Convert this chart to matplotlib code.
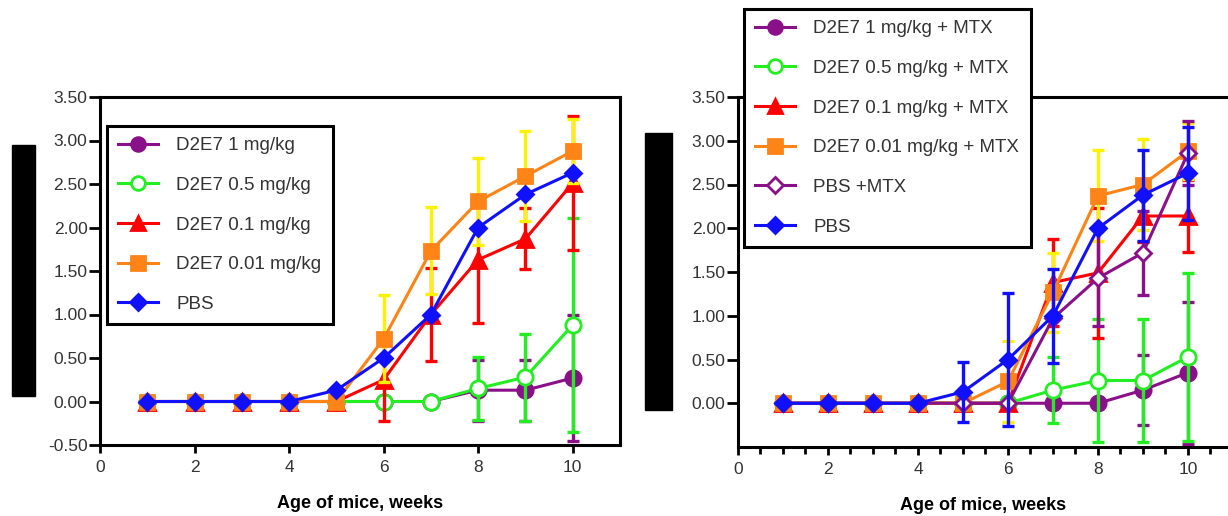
import matplotlib
matplotlib.use("Agg")
import matplotlib.pyplot as plt
from matplotlib.patches import Rectangle
import numpy as np

plt.rcParams['font.family'] = ['Liberation Sans', 'DejaVu Sans']

weeks = [1, 2, 3, 4, 5, 6, 7, 8, 9, 10]

# left panel (no MTX)
left_labels = ["D2E7 1 mg/kg", "D2E7 0.5 mg/kg", "D2E7 0.1 mg/kg", "D2E7 0.01 mg/kg", "PBS"]
left_1mg = [0, 0, 0, 0, 0, 0, 0, 0.13, 0.13, 0.27]
left_1mg_err = [0, 0, 0, 0, 0, 0, 0, 0.35, 0.35, 0.72]
left_05 = [0, 0, 0, 0, 0, 0, 0, 0.15, 0.28, 0.88]
left_05_err = [0, 0, 0, 0, 0, 0, 0, 0.36, 0.50, 1.23]
left_01 = [0, 0, 0, 0, 0, 0.25, 1.00, 1.63, 1.87, 2.51]
left_01_err = [0, 0, 0, 0, 0, 0.47, 0.53, 0.73, 0.35, 0.77]
left_001 = [0, 0, 0, 0, 0, 0.72, 1.73, 2.30, 2.59, 2.88]
left_001_err = [0, 0, 0, 0, 0, 0.50, 0.50, 0.50, 0.52, 0.37]
left_pbs = [0, 0, 0, 0, 0.13, 0.50, 1.00, 2.00, 2.38, 2.63]
left_pbs_err = [0, 0, 0, 0, 0, 0, 0, 0, 0, 0]

# right panel (+ MTX)
right_labels = ["D2E7 1 mg/kg + MTX", "D2E7 0.5 mg/kg + MTX", "D2E7 0.1 mg/kg + MTX",
                "D2E7 0.01 mg/kg + MTX", "PBS +MTX", "PBS"]
right_1mg = [0, 0, 0, 0, 0, 0, 0, 0, 0.15, 0.35]
right_1mg_err = [0, 0, 0, 0, 0, 0, 0, 0, 0.40, 0.81]
right_05 = [0, 0, 0, 0, 0, 0, 0.15, 0.26, 0.26, 0.53]
right_05_err = [0, 0, 0, 0, 0, 0, 0.38, 0.70, 0.70, 0.96]
right_01 = [0, 0, 0, 0, 0, 0, 1.38, 1.49, 2.14, 2.14]
right_01_err = [0, 0, 0, 0, 0, 0, 0.50, 0.74, 0.30, 0.41]
right_001 = [0, 0, 0, 0, 0, 0.25, 1.27, 2.37, 2.50, 2.88]
right_001_err = [0, 0, 0, 0, 0, 0.46, 0.45, 0.52, 0.52, 0.32]
right_pbsmtx = [0, 0, 0, 0, 0, 0, 0.97, 1.43, 1.72, 2.86]
right_pbsmtx_err = [0, 0, 0, 0, 0, 0, 0, 0.55, 0.48, 0.37]
right_pbs = [0, 0, 0, 0, 0.13, 0.50, 1.00, 2.00, 2.38, 2.63]
right_pbs_err = [0, 0, 0, 0, 0.34, 0.76, 0.54, 0, 0.52, 0.53]

purple = '#8a108a'
green = '#22ee22'
red = '#ff0000'
orange = '#ff8418'
yellow = '#fff200'
blue = '#1010ff'
textgrey = '#333333'

# (line colour, errorbar colour, marker, face)
left_styles = [(purple, purple, 'o', purple), (green, green, 'o', 'white'),
               (red, red, '^', red), (orange, yellow, 's', orange), (blue, blue, 'D', blue)]
right_styles = [(purple, purple, 'o', purple), (green, green, 'o', 'white'),
                (red, red, '^', red), (orange, yellow, 's', orange),
                (purple, purple, 'D', 'white'), (blue, blue, 'D', blue)]
msizes = {'o': 11, '^': 11, 's': 10.5, 'D': 8.5}


def draw_series(ax, ys, errs, labels, styles):
    x = np.array(weeks)
    for i, (y, e, lab, st) in enumerate(zip(ys, errs, labels, styles)):
        col, ecol, mk, face = st
        y = np.array(y)
        e = np.array(e)
        m = e > 0
        z = 2 + i * 0.1
        if m.any():
            ax.errorbar(x[m], y[m], yerr=e[m], fmt='none', ecolor=ecol,
                        elinewidth=2.4, capsize=4.5, capthick=2.4, zorder=z)
        ax.plot(x, y, color=col, lw=2.2, marker=mk, ms=msizes[mk],
                mfc=face, mec=col, mew=2, label=lab, zorder=z + 0.05)


def style_axes(ax, xmax, ylabels_from):
    ax.set_xlim(0, xmax)
    ax.set_ylim(-0.5, 3.5)
    ax.set_xticks([0, 2, 4, 6, 8, 10])
    ticks = np.arange(ylabels_from, 3.51, 0.5)
    ax.set_yticks(ticks)
    ax.set_yticklabels(['%.2f' % t for t in ticks])
    for s in ax.spines.values():
        s.set_linewidth(2.2)
    ax.tick_params(axis='y', length=8, width=2, pad=1, labelsize=12.5, labelcolor=textgrey)
    ax.tick_params(axis='x', length=6, width=2, pad=5, labelsize=12.5, labelcolor=textgrey)
    ax.set_xlabel('Age of mice, weeks', fontsize=13, fontweight='bold', labelpad=14)


fig = plt.figure(figsize=(12.28, 5.16), dpi=100)
W, H = 1228.0, 516.0

axL = fig.add_axes([100 / W, 1 - 445 / H, 520 / W, 348 / H])
draw_series(axL, [left_1mg, left_05, left_01, left_001, left_pbs],
            [left_1mg_err, left_05_err, left_01_err, left_001_err, left_pbs_err],
            left_labels, left_styles)
style_axes(axL, 11.0, -0.5)

axR = fig.add_axes([738 / W, 1 - 447 / H, 490 / W, 350 / H])
draw_series(axR, [right_1mg, right_05, right_01, right_001, right_pbsmtx, right_pbs],
            [right_1mg_err, right_05_err, right_01_err, right_001_err, right_pbsmtx_err, right_pbs_err],
            right_labels, right_styles)
style_axes(axR, 10.89, 0.0)
axR.spines['right'].set_visible(False)
axR.set_xticks(np.arange(0, 10.9, 0.5), minor=True)
axR.tick_params(axis='x', which='minor', length=5, width=2)

for ax, x0, y0 in [(axL, 107, 126), (axR, 744, 9)]:
    leg = ax.legend(loc='upper left', bbox_to_anchor=(x0 / W, 1 - y0 / H),
                    bbox_transform=fig.transFigure, borderaxespad=0, fontsize=13.5,
                    frameon=True, fancybox=False, framealpha=1, edgecolor='black',
                    handlelength=2.1, handletextpad=1.0, labelspacing=1.2,
                    borderpad=0.6, markerscale=0.9)
    leg.get_frame().set_linewidth(2.2)
    leg.set_zorder(10)
    for t in leg.get_texts():
        t.set_color(textgrey)

# black blocks covering the y axis titles
fig.patches.append(Rectangle((12 / W, 1 - 396 / H), 23 / W, 251 / H,
                             transform=fig.transFigure, color='black', figure=fig))
fig.patches.append(Rectangle((645 / W, 1 - 410 / H), 27 / W, 277 / H,
                             transform=fig.transFigure, color='black', figure=fig))

fig.savefig('out.png', dpi=100)
